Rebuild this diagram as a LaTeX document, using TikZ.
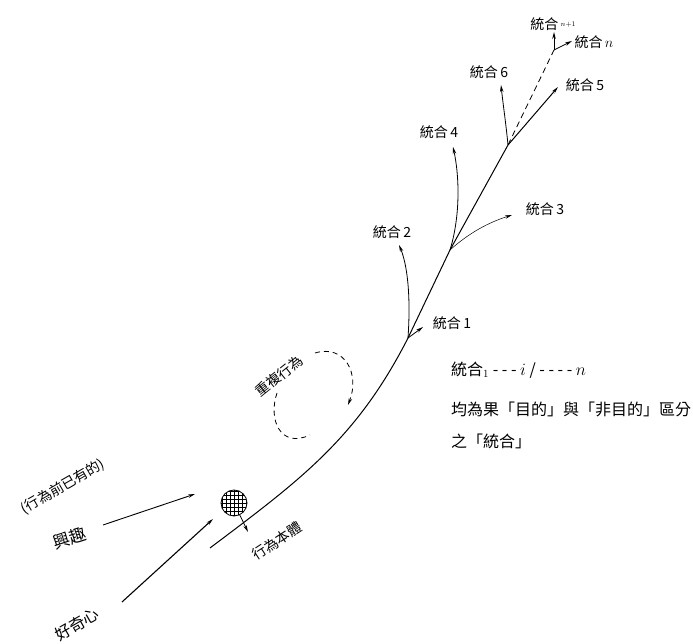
\documentclass[tikz,border=0pt]{standalone}
\usepackage{fontspec}
\newfontfamily\cjk{Noto Sans CJK TC}
\usepackage{tikz}
\usetikzlibrary{arrows.meta,positioning,calc}

\begin{document}
\begin{tikzpicture}[x=1pt,y=1pt,>={Stealth[length=7pt,width=3.5pt]},
 lab/.style={font=\cjk\fontsize{14}{16}\selectfont,inner sep=1pt},
 note/.style={font=\cjk\fontsize{16}{18}\selectfont,inner sep=1pt,anchor=west},
 stem/.style={line width=1pt},
 branch/.style={->,line width=0.8pt},
 loop/.style={line width=0.8pt,dash pattern=on 5pt off 4pt}]
 \useasboundingbox (0,0) rectangle (693,644);
 % stem and junctions
 \coordinate (s0) at (210,96);
 \coordinate (j1) at (408,306);
 \coordinate (j3) at (450,394);
 \coordinate (j6) at (508,499);
 \coordinate (t5) at (558,557);
 \draw[stem,->] (s0) to[out=37,in=243] (j1) -- (j3) -- (j6) -- (t5);
 % branch tips
 \coordinate (t1) at (423,317);
 \coordinate (t2) at (399,399);
 \coordinate (t3) at (512,429);
 \coordinate (t4) at (453,497);
 \coordinate (t6) at (501,559);
 \coordinate (dtop) at (554,594);
 \coordinate (tn1) at (554,612);
 \coordinate (tn) at (572,603);
 \draw[branch] (j1) -- (t1);
 \draw[branch] (j1) .. controls (411,350) and (407,380) .. (t2);
 \draw[branch,line width=0.5pt] (j3) .. controls (470,412) and (490,422) .. (t3);
 \draw[branch] (j3) .. controls (461,430) and (459,470) .. (t4);
 \draw[branch] (j6) .. controls (506,520) and (503,540) .. (t6);
 \draw[line width=0.8pt,dash pattern=on 6pt off 4pt] (j6) -- (dtop);
 \draw[branch] (dtop) -- (tn1);
 \draw[branch] (dtop) -- (tn);
 % labels
 \node[lab] (l1) at (452,321) {統合\,1};
 \node[lab] (l2) at (392,412) {統合\,2};
 \node[lab] (l3) at (545,435) {統合\,3};
 \node[lab] (l4) at (439,512) {統合\,4};
 \node[lab] (l5) at (585,559) {統合\,5};
 \node[lab] (l6) at (489,572) {統合\,6};
 \node[lab] (ln) at (594,602) {統合\,$n$};
 \node[lab] (ln1) at (553,620) {統合\,\raisebox{3pt}{\scriptsize$n{+}1$}};
 % repeated action
 \coordinate (lpa) at (277,251);
 \coordinate (lpb) at (310,209);
 \coordinate (lpc) at (315,291);
 \coordinate (lpd) at (348,239);
 \draw[loop] (lpa) .. controls (268,225) and (280,195) .. (lpb);
 \draw[loop,->] (lpc) .. controls (345,300) and (360,270) .. (lpd);
 \node[lab,rotate=39] (rep) at (279,268) {重複行為};
 % note
 \node[note] (n1) at (450,274) {統合$_1$ - - - $i$ / - - - - $n$};
 \node[note] (n2) at (450,235) {均為果「目的」與「非目的」區分};
 \node[note] (n3) at (450,203) {之「統合」};
 % origin
 \node[draw,circle,minimum size=26pt,inner sep=0pt,line width=0.8pt,
  path picture={\draw[line width=0.4pt,step=4pt] (path picture bounding box.south west) grid (path picture bounding box.north east);}] (core) at (234,141) {};
 \coordinate (cb) at (248,112);
 \draw[branch] (core) -- (cb);
 \node[lab,rotate=33] (body) at (277,103) {行為本體};
 \node[lab,rotate=30] (pre) at (63,157) {(行為前已有的)};
 \node[lab,font=\cjk\fontsize{17}{19}\selectfont,rotate=18] (interest) at (70,106) {興趣};
 \node[lab,font=\cjk\fontsize{16}{18}\selectfont,rotate=30] (curio) at (77,20) {好奇心};
 \coordinate (ia) at (103,119);
 \coordinate (ib) at (195,150);
 \coordinate (ca) at (122,42);
 \coordinate (cc) at (213,125);
 \draw[branch,line width=0.9pt] (ia) -- (ib);
 \draw[branch,line width=1.1pt] (ca) -- (cc);
\end{tikzpicture}
\end{document}
